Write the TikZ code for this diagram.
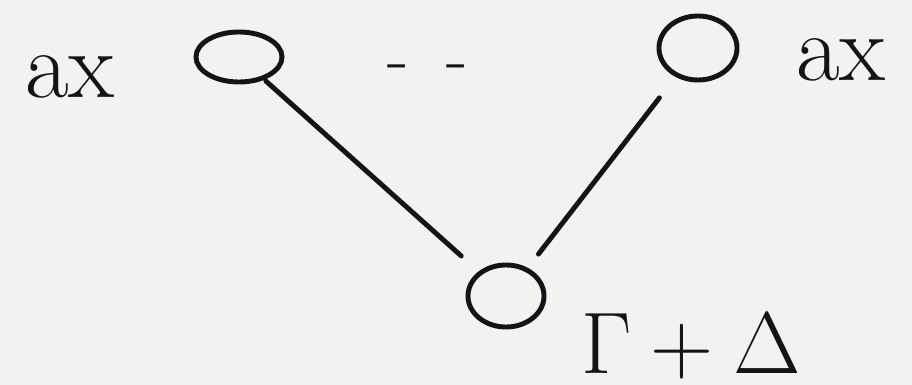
\documentclass[tikz,border=0pt]{standalone}
\usepackage{tikz}
\usetikzlibrary{shapes.geometric,backgrounds}
\usepackage{xcolor}
\definecolor{paper}{RGB}{242,242,240}
\definecolor{ink}{RGB}{20,20,20}

\begin{document}
\begin{tikzpicture}[
    x=0.01cm, y=-0.01cm,
    vertex/.style={draw=ink, ellipse, line width=1.4pt, inner sep=0pt},
    label/.style={text=ink, font=\fontsize{27}{32}\selectfont, inner sep=0pt},
    edge/.style={draw=ink, line width=1.4pt, line cap=round},
]
    \fill[paper] (0,0) rectangle (912,385);
    \useasboundingbox (0,0) rectangle (912,385);

    \node[vertex, minimum width=0.86cm, minimum height=0.5cm] (lft) at (239,57) {};
    \node[vertex, minimum width=0.78cm, minimum height=0.64cm] (rgt) at (698,48) {};
    \node[vertex, minimum width=0.76cm, minimum height=0.62cm] (bot) at (506,296) {};

    \node[label] (lftlab) at (70,77) {ax};
    \node[label] (rgtlab) at (841,60) {ax};
    \node[label, font=\fontsize{26}{32}\selectfont] (botlab) at (691,346) {$\Gamma+\Delta$};
    \node[label, font=\fontsize{20}{24}\selectfont] (dots) at (428,73) {-\hspace{0.38cm}-};

    \draw[edge, shorten <=0.36cm, shorten >=0.6cm] (lft.center) -- (bot.center);
    \draw[edge, shorten <=0.63cm, shorten >=0.53cm] (rgt.center) -- (bot.center);

\end{tikzpicture}
\end{document}
